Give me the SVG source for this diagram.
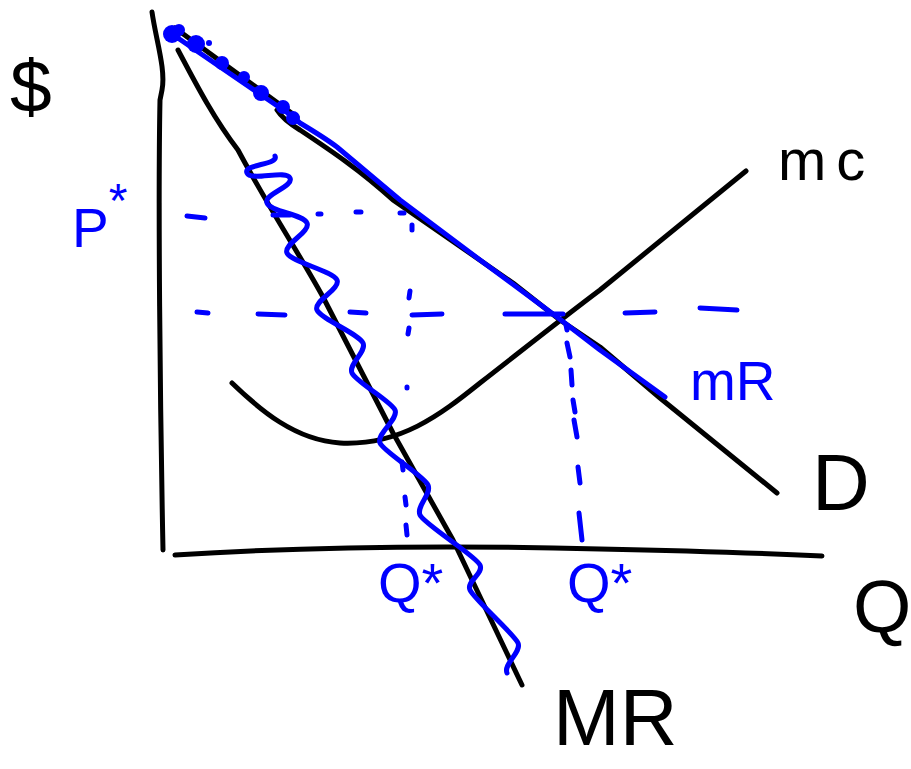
<svg xmlns="http://www.w3.org/2000/svg" width="911" height="769" viewBox="0 0 911 769">
<style>
.k{fill:none;stroke:#000;stroke-width:5;stroke-linecap:round;stroke-linejoin:round}
.b{fill:none;stroke:#0000ff;stroke-width:5;stroke-linecap:round;stroke-linejoin:round}
.bd{fill:#0000ff}
.tk{font-family:"Liberation Sans",Arial,sans-serif;fill:#000}
.tb{font-family:"Liberation Sans",Arial,sans-serif;fill:#0000ff}
</style>
<rect width="911" height="769" fill="#fff"/>
<g id="axes">
<path class="k" d="M152,12 C156,40 166,70 162,90 L160,100 C158,200 160,400 163,550"/>
<path class="k" d="M175,555 C300,547 450,545 600,549 C700,551 780,554 822,556"/>
</g>
<g id="demand">
<path class="k" d="M175,28 L297,117"/>
<path class="k" d="M277,110 C282,118 290,124 300,130 C330,150 360,170 393,200 L513,283 L560,320 L600,347 L660,398 L777,493"/>
</g>
<g id="mr-black">
<path class="k" d="M178,50 C198,88 215,120 238,150 C270,210 300,255 323,297 L393,433 L453,540 L522,685"/>
</g>
<g id="mc">
<path class="k" d="M232,383 C260,410 295,440 340,443 C400,446 440,415 480,383 C520,352 560,320 600,290 L746,171"/>
</g>
<g id="mr-blue">
<path class="b" d="M293,117 L300,123 C315,132 325,138 337,147 L400,200 L480,260 L557,317 L600,350 L665,397"/>
<path class="b" d="M172,34 L295,118"/>
<circle class="bd" cx="172" cy="34" r="9"/>
<circle class="bd" cx="179" cy="30" r="6"/>
<circle class="bd" cx="196" cy="44" r="9"/>
<circle class="bd" cx="209" cy="43" r="3"/>
<circle class="bd" cx="222" cy="63" r="7"/>
<circle class="bd" cx="244" cy="77" r="6"/>
<circle class="bd" cx="261" cy="93" r="8"/>
<circle class="bd" cx="283" cy="107" r="7"/>
<circle class="bd" cx="293" cy="118" r="7"/>
</g>
<g id="wave">
<path class="b" d="M275,156 C279,165 243,164 247,173 C251,182 286,169 290,178 C294,187 263,194 267,203 C271,212 303,214 307,223 C311,232 283,244 287,253 C291,262 333,271 337,280 C341,289 313,301 317,310 C321,319 359,334 363,343 C367,352 348,364 352,373 C356,382 391,401 395,410 C399,419 376,434 380,443 C384,452 424,476 428,485 C432,494 416,506 420,515 C424,524 476,556 480,565 C484,574 466,581 470,590 C474,599 514,634 518,643 C522,652 503,664 507,673"/>
</g>
<g id="guides">
<path class="b" d="M187,216 L205,218 M273,215 L290,215 M318,214 L321,214 M356,212 L361,212 M400,213 L404,213 M412,225 L412,230 M410,291 L409,298 M409,328 L408,334 M407,387 L407,388 M402,462 L403,470 M405,497 L406,505 M406,525 L407,535"/>
<path class="b" d="M197,312 L208,313 M258,314 L285,315 M350,312 L366,313 M412,315 L442,314 M505,314 L563,314 M625,313 L655,312 M700,308 L737,310"/>
<path class="b" d="M566,325 L567,330 M567,343 L570,357 M571,370 L572,385 M573,400 L575,412 M574,420 L577,437 M578,467 L580,483 M579,513 L582,540"/>
</g>
<g id="labels">
<text class="tk" x="10" y="112" font-size="75">$</text>
<text class="tb" x="72" y="247" font-size="55">P<tspan dy="-30" font-size="48">*</tspan></text>
<text class="tk" x="778" y="180" font-size="58" letter-spacing="10">mc</text>
<text class="tb" x="690" y="400" font-size="55">mR</text>
<text class="tk" x="812" y="510" font-size="80">D</text>
<text class="tk" x="853" y="632" font-size="75">Q</text>
<text class="tb" x="378" y="602" font-size="56">Q*</text>
<text class="tb" x="567" y="602" font-size="56">Q*</text>
<text class="tk" x="553" y="745" font-size="80">MR</text>
</g>
</svg>
